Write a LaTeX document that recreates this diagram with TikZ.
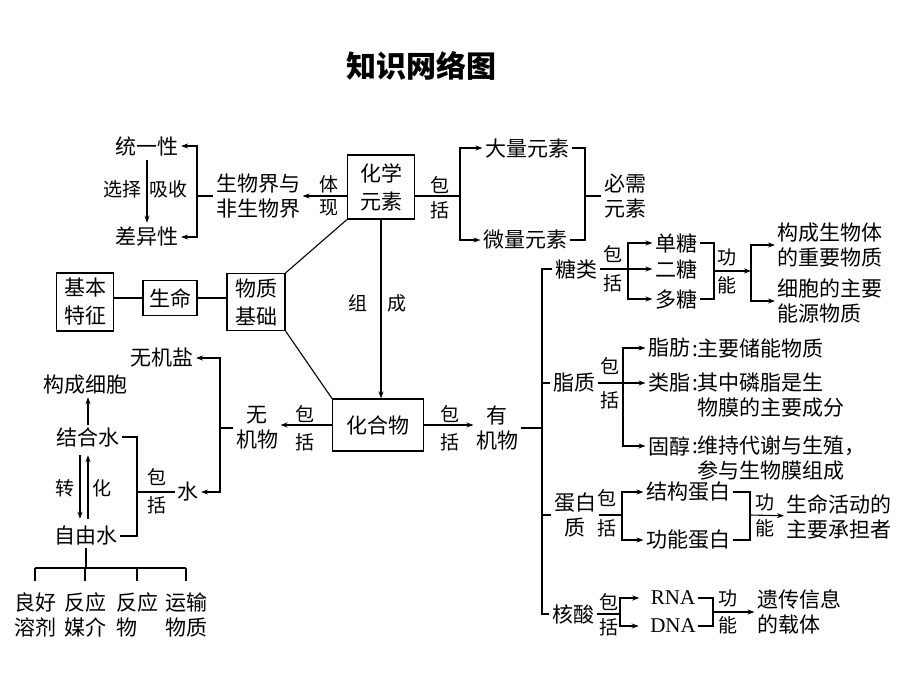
\documentclass[tikz,border=0pt]{standalone}
\usepackage{fontspec}
\setmainfont{Noto Sans CJK SC}
\newfontfamily\latinserif{Liberation Serif}
\usetikzlibrary{calc}
\usetikzlibrary{positioning}
\usetikzlibrary{arrows.meta}
\tikzset{
  every picture/.style={line width=1.1pt, >={Stealth[length=7pt,width=5pt]}},
  txt/.style={inner sep=2pt, align=center, font=\fontsize{21}{25}\selectfont},
  lbl/.style={inner sep=0pt, font=\fontsize{19}{22}\selectfont},
  box/.style={txt, draw, font=\fontsize{21}{28}\selectfont}
}
\newcommand{\vpair}[6]{
  \node[lbl] (#1a) at (#2,#3) {#5};
  \node[lbl] (#1b) at (#2,#4) {#6};
}

\begin{document}
\begin{tikzpicture}[x=1pt, y=-1pt]
  \useasboundingbox (0,0) rectangle (920,690);
  \node[font=\bfseries\fontsize{30}{34}\selectfont] (title) at (421,66) {知识网络图};

  % chemical elements
  \node[box, minimum width=67pt, minimum height=64pt] (hxys) at (381,187) {化学\\元素};
  \node[txt] (swj) at (258,196) {生物界与\\非生物界};
  \node[txt] (tyx) at (147,146) {统一性};
  \node[txt] (cyx) at (147,237) {差异性};
  \node[txt] (dlys) at (527,148) {大量元素};
  \node[txt] (wlys) at (525,240) {微量元素};
  \node[txt] (bxys) at (625,196) {必需\\元素};
  \vpair{tx}{329}{184}{208}{体}{现}
  \node[lbl] (xz) at (122,189) {选择};
  \node[lbl] (xs) at (168,189) {吸收};
  \vpair{bk1}{440}{185}{210}{包}{括}

  \coordinate (jA) at (460,196);
  \coordinate (jB) at (585,196);
  \coordinate (jC) at (197,196);
  \draw[->] (hxys.west |- swj.center) -- (swj);
  \draw (swj) -- (jC);
  \draw[->] (jC) |- (tyx);
  \draw[->] (jC) |- (cyx);
  \draw[->, shorten <=2pt, shorten >=2pt] (tyx.south) -- (tyx.south |- cyx.north);
  \draw (hxys.east |- jA) -- (jA);
  \draw[->] (jA) |- (dlys);
  \draw[->] (jA) |- (wlys);
  \draw (dlys) -| (jB);
  \draw (wlys) -| (jB);
  \draw (jB) -- (bxys);

  % life
  \node[box, minimum width=57pt, minimum height=58pt] (jbtz) at (85,302) {基本\\特征};
  \node[box, minimum width=54pt, minimum height=35pt] (sm) at (170,298) {生命};
  \node[box, minimum width=58pt, minimum height=57pt] (wzjc) at (256,302) {物质\\基础};
  \node[box, minimum width=91pt, minimum height=52pt] (hhw) at (378,425) {化合物};
  \draw (jbtz.east |- sm.center) -- (sm.west);
  \draw (sm.east) -- (sm.east -| wzjc.west);
  \draw (hxys.south west) -- (wzjc.north east);
  \draw (wzjc.south east) -- (hhw.north west);
  \draw[->] (hxys.south) -- (hxys.south |- hhw.north);
  \node[lbl] (zu) at (358,303) {组};
  \node[lbl] (cheng) at (397,303) {成};

  % inorganic
  \node[txt] (wjw) at (257,428) {无\\机物};
  \node[txt] (wjy) at (162,358) {无机盐};
  \node[txt] (shui) at (188,492) {水};
  \node[txt] (gcxb) at (85,385) {构成细胞};
  \node[txt] (jhs) at (88,437) {结合水};
  \node[txt] (zys) at (86,536) {自由水};
  \vpair{bk2}{305}{414}{442}{包}{括}
  \vpair{bk3}{157}{477}{505}{包}{括}
  \node[lbl] (zhuan) at (65,488) {转};
  \node[lbl] (hua) at (102,488) {化};
  \coordinate (jD) at (220,428);
  \coordinate (jE) at (137,492);
  \coordinate (jF) at (86,568);
  \draw[->] (hhw.west) -- (hhw.west -| wjw.east);
  \draw (wjw) -- (jD);
  \draw[->] (jD) |- (wjy);
  \draw[->] (jD) |- (shui);
  \draw (shui) -- (jE);
  \draw (jhs) -| (jE) |- (zys);
  \draw[->] (jhs.north) -- (jhs.north |- gcxb.south);
  \draw[->, shorten <=6pt, shorten >=5pt] ([xshift=-8pt]jhs.south) -- ([xshift=-8pt]jhs.south |- zys.north);
  \draw[->, shorten <=5pt, shorten >=6pt] (jhs.south |- zys.north) -- (jhs.south);

  \node[txt] (lhrj) at (35,615) {良好\\溶剂};
  \node[txt] (fymj) at (85,615) {反应\\媒介};
  \node[txt, align=left] (fyw) at (137,615) {反应\\物};
  \node[txt] (ysw) at (186,615) {运输\\物质};
  \draw (zys) -- (jF);
  \draw (lhrj.north |- jF) -- (ysw.north |- jF);
  \foreach \n in {lhrj,fymj,fyw,ysw}
    \draw[shorten >=9pt] (\n.north |- jF) -- (\n.north);

  % organic
  \node[txt] (yjw) at (497,428) {有\\机物};
  \vpair{bk4}{450}{414}{442}{包}{括}
  \coordinate (jG) at (542,428);
  \draw[->] (hhw.east) -- (hhw.east -| yjw.west);
  \draw (yjw) -- (jG);
  \node[txt] (tl) at (576,269) {糖类};
  \node[txt] (zz) at (574,383) {脂质};
  \node[txt] (dbz) at (575,515) {蛋白\\质};
  \node[txt] (hs) at (573,614) {核酸};
  \draw (tl) -| (jG) |- (hs);
  \draw (zz) -- (zz -| jG);
  \draw (dbz) -- (dbz -| jG);

  % sugars
  \node[txt] (dt) at (676,243) {单糖};
  \node[txt] (ert) at (676,269) {二糖};
  \node[txt] (duot) at (676,299) {多糖};
  \node[txt, align=left] (gcsw) at (830,245) {构成生物体\\的重要物质};
  \node[txt, align=left] (xbzy) at (830,301) {细胞的主要\\能源物质};
  \vpair{bk5}{613}{254}{283}{包}{括}
  \vpair{gn1}{727}{257}{285}{功}{能}
  \coordinate (jH) at (628,269);
  \coordinate (jI) at (714,271);
  \coordinate (jJ) at (751,271);
  \draw[->] (tl) -- (ert);
  \draw[->] (jH) |- (dt);
  \draw[->] (jH) |- (duot);
  \draw (dt) -| (jI);
  \draw (duot) -| (jI);
  \draw[->] (jI) -- (jJ);
  \draw[->] (jJ) |- (gcsw);
  \draw[->] (jJ) |- (xbzy);

  % lipids
  \node[txt] (zf) at (669,348) {脂肪};
  \node[txt] (lz) at (669,383) {类脂};
  \node[txt] (gc) at (669,446) {固醇};
  \node[txt, align=left, anchor=north west] (zfT) at ([xshift=-3pt]zf.north east) {:主要储能物质};
  \node[txt, align=left, anchor=north west] (lzT) at ([xshift=-3pt]lz.north east) {:其中磷脂是生\\\phantom{:}物膜的主要成分};
  \node[txt, align=left, anchor=north west] (gcT) at ([xshift=-3pt]gc.north east) {:维持代谢与生殖，\\\phantom{:}参与生物膜组成};
  \vpair{bk6}{610}{366}{400}{包}{括}
  \coordinate (jK) at (623,383);
  \draw[->] (zz) -- (lz);
  \draw[->] (jK) |- (zf);
  \draw[->] (jK) |- (gc);

  % proteins
  \node[txt] (jgdb) at (688,492) {结构蛋白};
  \node[txt] (gndb) at (688,540) {功能蛋白};
  \node[txt, align=left] (smhd) at (839,517) {生命活动的\\主要承担者};
  \vpair{bk7}{607}{498}{528}{包}{括}
  \vpair{gn2}{765}{502}{528}{功}{能}
  \coordinate (jL) at (622,515);
  \coordinate (jM) at (750,515);
  \draw (dbz) -- (jL);
  \draw[->] (jL) |- (jgdb);
  \draw[->] (jL) |- (gndb);
  \draw (jgdb) -| (jM);
  \draw (gndb) -| (jM);
  \draw[->] (jM) -- (smhd);

  % nucleic acids
  \node[txt, font=\latinserif\fontsize{21}{25}\selectfont] (rna) at (673,598) {RNA};
  \node[txt, font=\latinserif\fontsize{21}{25}\selectfont] (dna) at (673,626) {DNA};
  \node[txt, align=left] (ycxx) at (799,612) {遗传信息\\的载体};
  \vpair{bk8}{609}{602}{627}{包}{括}
  \vpair{gn3}{728}{598}{625}{功}{能}
  \coordinate (jN) at (620,614);
  \coordinate (jO) at (713,612);
  \draw (hs) -- (jN);
  \draw[->, shorten >=9pt] (jN) |- (rna);
  \draw[->, shorten >=9pt] (jN) |- (dna);
  \draw (rna) -| (jO);
  \draw (dna) -| (jO);
  \draw[->] (jO) -- (ycxx);
\end{tikzpicture}
\end{document}
